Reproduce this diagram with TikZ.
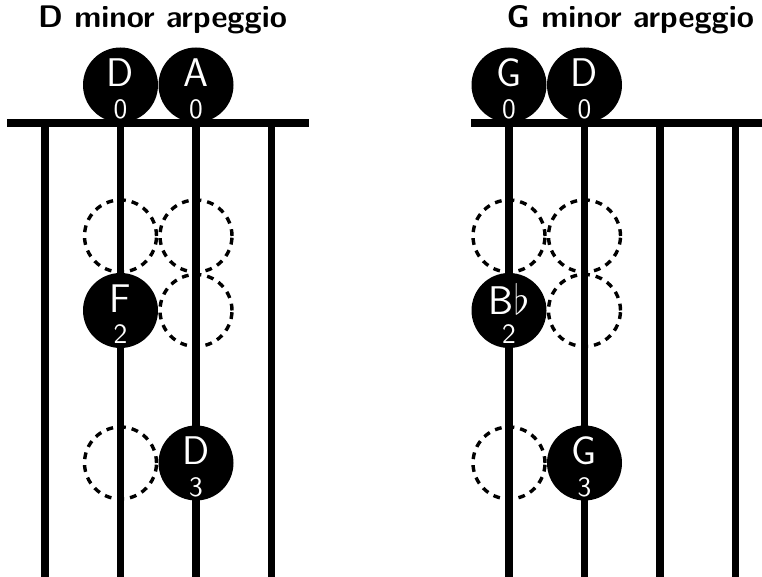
\documentclass[tikz,border=0pt]{standalone}
\usepackage{tikz}
\usetikzlibrary{positioning}
\tikzset{string/.style = {line width=3.6pt},
         nut/.style = {line width=4pt},
         finger/.style = {circle, fill=black, minimum size=37.5pt, inner sep=0pt},
         spare/.style = {circle, draw, line width=1.7pt, dash pattern=on 3.4pt off 3pt,
                         minimum size=36pt, inner sep=0pt},
         notename/.style = {text=white, font=\sffamily\fontsize{20}{20}\selectfont, yshift=6pt},
         fingernum/.style = {text=white, font=\sffamily\fontsize{14}{14}\selectfont, yshift=-12pt},
         title/.style = {font=\sffamily\bfseries\fontsize{15.6}{15.6}\selectfont, anchor=base}}

\begin{document}
\begin{tikzpicture}[x=0.5pt, y=0.5pt]
      \useasboundingbox (0, 0) rectangle (762, 577);

      % D minor
      \node [title] (dtitle) at (162.5, 549) {D minor arpeggio};
      \draw [nut] (7, 454) -- (309, 454);
      \draw [string] (45, 454) -- (45, 0);
      \draw [string] (120.5, 454) -- (120.5, 0);
      \draw [string] (196, 454) -- (196, 0);
      \draw [string] (271.5, 454) -- (271.5, 0);

      \node [spare] (dspareA) at (120.5, 341) {};
      \node [spare] (dspareB) at (196, 341) {};
      \node [spare] (dspareC) at (196, 266.5) {};
      \node [spare] (dspareD) at (120.5, 114) {};

      \node [finger, label={[notename]center:D}, label={[fingernum]center:0}] (dopenD) at (120.5, 492) {};
      \node [finger, label={[notename]center:A}, label={[fingernum]center:0}] (dopenA) at (196, 492) {};
      \node [finger, label={[notename]center:F}, label={[fingernum]center:2}] (dnoteF) at (120.5, 266.5) {};
      \node [finger, label={[notename]center:D}, label={[fingernum]center:3}] (dnoteD) at (196, 114) {};

      % G minor
      \node [title] (gtitle) at (630.5, 549) {G minor arpeggio};
      \draw [nut] (471, 454) -- (762, 454);
      \draw [string] (509, 454) -- (509, 0);
      \draw [string] (584.5, 454) -- (584.5, 0);
      \draw [string] (660, 454) -- (660, 0);
      \draw [string] (735.5, 454) -- (735.5, 0);

      \node [spare] (gspareA) at (509, 341) {};
      \node [spare] (gspareB) at (584.5, 341) {};
      \node [spare] (gspareC) at (584.5, 266.5) {};
      \node [spare] (gspareD) at (509, 114) {};

      \node [finger, label={[notename]center:G}, label={[fingernum]center:0}] (gopenG) at (509, 492) {};
      \node [finger, label={[notename]center:D}, label={[fingernum]center:0}] (gopenD) at (584.5, 492) {};
      \node [finger, label={[notename]center:B$\flat$}, label={[fingernum]center:2}] (gnoteB) at (509, 266.5) {};
      \node [finger, label={[notename]center:G}, label={[fingernum]center:3}] (gnoteG) at (584.5, 114) {};
\end{tikzpicture}
\end{document}
